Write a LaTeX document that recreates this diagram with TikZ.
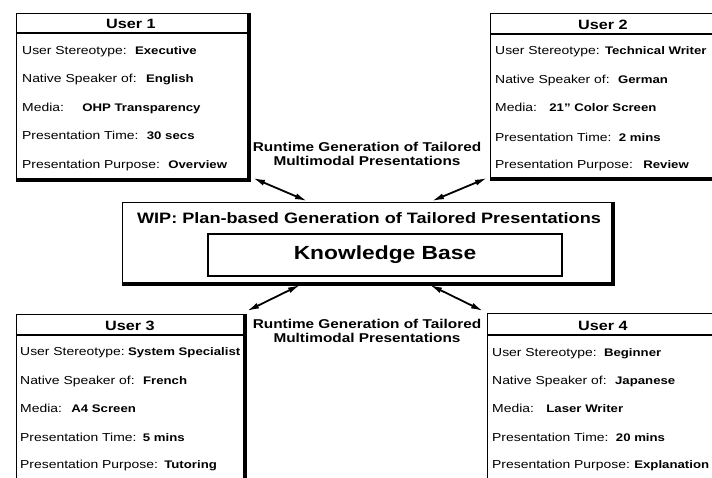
\documentclass[tikz,border=0pt]{standalone}
\usepackage{fontspec}
\setmainfont{Liberation Sans}[FakeStretch=1.2]
\usetikzlibrary{arrows.meta}

\begin{document}
\begin{tikzpicture}[x=1pt,y=-1pt,
  card/.style={draw, line width=1.1pt, anchor=north west, inner sep=0pt},
  heavy/.style={line width=3.8pt},
  divider/.style={line width=1.1pt},
  cardtitle/.style={inner sep=0pt, font=\fontsize{13.5}{15}\selectfont\bfseries},
  label/.style={anchor=base west, inner sep=0pt, font=\fontsize{11.6}{12}\selectfont},
  value/.style={anchor=base west, inner sep=0pt, font=\fontsize{11}{12}\selectfont\bfseries},
  caption/.style={inner sep=0pt, align=center, font=\fontsize{12.8}{14.5}\selectfont\bfseries},
  biarrow/.style={line width=1.8pt, {Latex[length=12pt,width=6pt]}-{Latex[length=12pt,width=6pt]}}
]
\useasboundingbox (0,0) rectangle (712,477);
\clip (0,0) rectangle (712,477);
\fill[white] (0,0) rectangle (712,477);

% ---------- User 1 ----------
\node[card, minimum width=232, minimum height=166] (u1) at (16,13) {};
\draw[heavy] (u1.north east) -- (u1.south east) -- (u1.south west);
\draw[divider] ([yshift=-20pt]u1.north west) -- ([yshift=-20pt]u1.north east);
\node[cardtitle] (u1t) at (131,24) {User 1};
\node[label] (u1a) at (22,54)  {User Stereotype:};
\node[label] (u1b) at (22,82)  {Native Speaker of:};
\node[label] (u1c) at (22,111) {Media:};
\node[label] (u1d) at (22,139) {Presentation Time:};
\node[label] (u1e) at (22,168) {Presentation Purpose:};
\node[value] (u1av) at ([xshift=8pt]u1a.base east) {Executive};
\node[value] (u1bv) at ([xshift=9pt]u1b.base east) {English};
\node[value] (u1cv) at ([xshift=18pt]u1c.base east) {OHP Transparency};
\node[value] (u1dv) at ([xshift=8pt]u1d.base east) {30 secs};
\node[value] (u1ev) at ([xshift=8pt]u1e.base east) {Overview};

% ---------- User 2 ----------
\node[card, minimum width=240, minimum height=165] (u2) at (490,13) {};
\draw[heavy] (u2.north east) -- (u2.south east) -- (u2.south west);
\draw[divider] ([yshift=-21pt]u2.north west) -- ([yshift=-21pt]u2.north east);
\node[cardtitle] (u2t) at (603,25) {User 2};
\node[label] (u2a) at (495,54)  {User Stereotype:};
\node[label] (u2b) at (495,83)  {Native Speaker of:};
\node[label] (u2c) at (495,111) {Media:};
\node[label] (u2d) at (495,141) {Presentation Time:};
\node[label] (u2e) at (495,168) {Presentation Purpose:};
\node[value] (u2av) at ([xshift=5pt]u2a.base east) {Technical Writer};
\node[value] (u2bv) at ([xshift=8pt]u2b.base east) {German};
\node[value] (u2cv) at ([xshift=12pt]u2c.base east) {21'' Color Screen};
\node[value] (u2dv) at ([xshift=7pt]u2d.base east) {2 mins};
\node[value] (u2ev) at ([xshift=10pt]u2e.base east) {Review};

% ---------- User 3 ----------
\node[card, minimum width=228, minimum height=180] (u3) at (16,314) {};
\draw[heavy] (u3.north east) -- (u3.south east) -- (u3.south west);
\draw[divider] ([yshift=-21pt]u3.north west) -- ([yshift=-21pt]u3.north east);
\node[cardtitle] (u3t) at (130,326) {User 3};
\node[label] (u3a) at (20,355) {User Stereotype:};
\node[label] (u3b) at (20,384) {Native Speaker of:};
\node[label] (u3c) at (20,412) {Media:};
\node[label] (u3d) at (20,441) {Presentation Time:};
\node[label] (u3e) at (20,468) {Presentation Purpose:};
\node[value] (u3av) at ([xshift=3pt]u3a.base east) {System Specialist};
\node[value] (u3bv) at ([xshift=8pt]u3b.base east) {French};
\node[value] (u3cv) at ([xshift=9pt]u3c.base east) {A4 Screen};
\node[value] (u3dv) at ([xshift=6pt]u3d.base east) {5 mins};
\node[value] (u3ev) at ([xshift=6pt]u3e.base east) {Tutoring};

% ---------- User 4 ----------
\node[card, minimum width=240, minimum height=180] (u4) at (487,313) {};
\draw[heavy] (u4.north east) -- (u4.south east) -- (u4.south west);
\draw[divider] ([yshift=-22pt]u4.north west) -- ([yshift=-22pt]u4.north east);
\node[cardtitle] (u4t) at (603,326) {User 4};
\node[label] (u4a) at (492,356) {User Stereotype:};
\node[label] (u4b) at (492,384) {Native Speaker of:};
\node[label] (u4c) at (492,412) {Media:};
\node[label] (u4d) at (492,441) {Presentation Time:};
\node[label] (u4e) at (492,468) {Presentation Purpose:};
\node[value] (u4av) at ([xshift=7pt]u4a.base east) {Beginner};
\node[value] (u4bv) at ([xshift=8pt]u4b.base east) {Japanese};
\node[value] (u4cv) at ([xshift=12pt]u4c.base east) {Laser Writer};
\node[value] (u4dv) at ([xshift=7pt]u4d.base east) {20 mins};
\node[value] (u4ev) at ([xshift=4pt]u4e.base east) {Explanation};

% ---------- central system box ----------
\node[card, minimum width=490, minimum height=81] (wip) at (122,202) {};
\draw[heavy] (wip.north east) -- (wip.south east) -- (wip.south west);
\node[inner sep=0pt, font=\fontsize{15.1}{17}\selectfont\bfseries] (wipt) at (369,218)
  {WIP: Plan-based Generation of Tailored Presentations};
\node[draw, line width=1.1pt, minimum width=354, minimum height=42, inner sep=0pt,
  font=\fontsize{19}{21}\selectfont\bfseries] (kb) at (385,255) {Knowledge Base};

% ---------- captions ----------
\node[caption] (captop) at (367,154) {Runtime Generation of Tailored\\Multimodal Presentations};
\node[caption] (capbot) at (367,331) {Runtime Generation of Tailored\\Multimodal Presentations};

% ---------- connectors ----------
\coordinate (w1) at (307,201);
\coordinate (w2) at (432,201);
\coordinate (w3) at (300,285);
\coordinate (w4) at (430,285);
\coordinate (c1) at (253,178);
\coordinate (c2) at (487,178);
\coordinate (c3) at (247,311);
\coordinate (c4) at (483,311);
\draw[biarrow] (c1) -- (w1);
\draw[biarrow] (c2) -- (w2);
\draw[biarrow] (w3) -- (c3);
\draw[biarrow] (w4) -- (c4);
\end{tikzpicture}
\end{document}
